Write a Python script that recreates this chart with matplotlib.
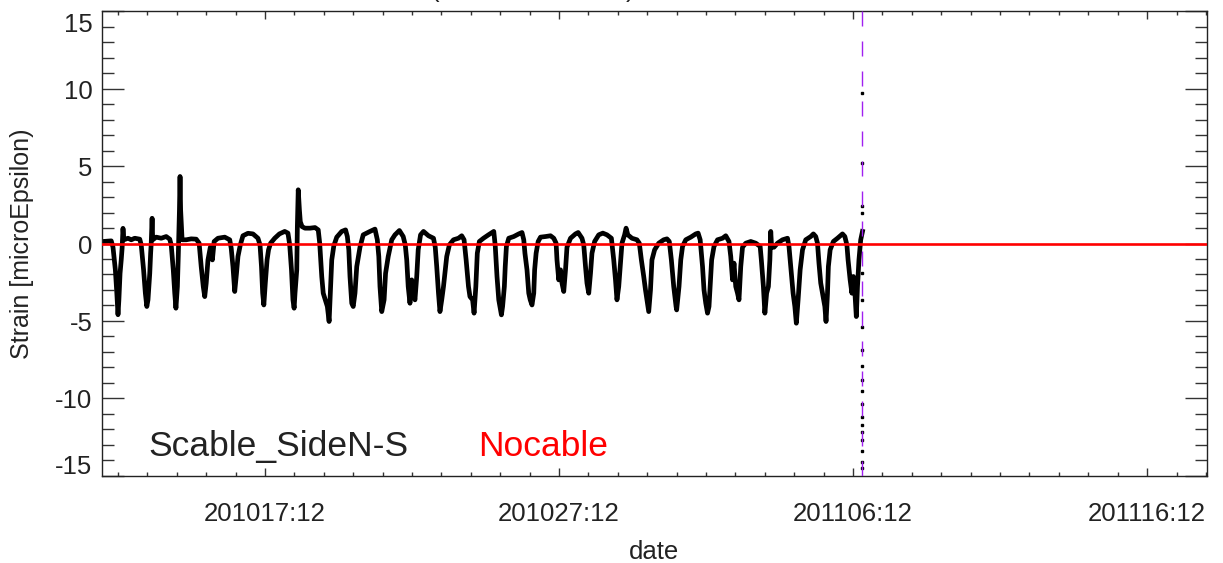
import numpy as np
import matplotlib
matplotlib.use("Agg")
import matplotlib.pyplot as plt
from matplotlib.ticker import MultipleLocator, FixedLocator
import matplotlib.transforms as mtransforms

plt.rcParams['font.family'] = ['Liberation Sans', 'DejaVu Sans']

# time in fractional day numbers counted from 1 Oct 2010 (Nov d -> 31 + d)
time_day = [
    11.99, 12.27, 12.33, 12.41, 12.46, 12.50, 12.53, 12.57, 12.61, 12.64, 12.67, 12.70,
    12.84, 12.95, 13.07, 13.24, 13.29, 13.37, 13.43, 13.48, 13.52, 13.58, 13.61, 13.63,
    13.66, 13.68, 13.80, 13.97, 14.14, 14.26, 14.31, 14.38, 14.43, 14.47, 14.52, 14.55,
    14.59, 14.61, 14.63, 14.68, 14.82, 14.99, 15.16, 15.26, 15.33, 15.40, 15.45, 15.50,
    15.56, 15.64, 15.71, 15.77, 15.90, 16.13, 16.30, 16.35, 16.41, 16.47, 16.53, 16.58,
    16.66, 16.75, 16.92, 17.09, 17.26, 17.33, 17.38, 17.42, 17.46, 17.51, 17.57, 17.62,
    17.69, 17.83, 17.99, 18.17, 18.28, 18.34, 18.40, 18.45, 18.49,
    18.52, 18.58, 18.60, 18.63, 18.67, 18.70, 18.76, 18.86, 19.03, 19.20, 19.31, 19.36,
    19.43, 19.48, 19.55, 19.62, 19.68, 19.72, 19.77, 19.84, 19.94, 20.11, 20.24, 20.30,
    20.35, 20.39, 20.45, 20.50, 20.56, 20.62, 20.73, 20.84, 21.07, 21.24, 21.32, 21.37,
    21.41, 21.47, 21.55, 21.60, 21.69, 21.81, 21.92, 22.07, 22.20, 22.27, 22.32, 22.37,
    22.43, 22.49, 22.54, 22.60, 22.66, 22.71, 22.79, 22.89, 23.06, 23.23, 23.29, 23.34,
    23.40, 23.45, 23.51, 23.57, 23.62, 23.68, 23.77, 23.91, 24.08, 24.19, 24.27, 24.34,
    24.42, 24.47, 24.56, 24.61, 24.67, 24.72, 24.79, 24.93, 25.10,
    25.28, 25.33, 25.39, 25.45, 25.50, 25.54, 25.58, 25.64, 25.67, 25.71, 25.79, 25.96,
    26.13, 26.24, 26.30, 26.34, 26.41, 26.47, 26.52, 26.58, 26.64, 26.67, 26.72, 26.79,
    26.87, 27.04, 27.21, 27.32, 27.40, 27.43, 27.49, 27.55, 27.60, 27.66, 27.72, 27.77,
    27.89, 28.06, 28.15, 28.28, 28.34, 28.40, 28.45, 28.51, 28.57, 28.62, 28.71, 28.85,
    28.99, 29.13, 29.28, 29.36, 29.42, 29.47, 29.53, 29.59, 29.64, 29.73, 29.78, 29.84,
    29.98, 30.15, 30.23, 30.30, 30.38, 30.44, 30.49, 30.55, 30.61, 30.66, 30.75, 30.89,
    31.06, 31.17, 31.25, 31.32, 31.40, 31.48,
    31.50, 31.58, 31.64, 31.70, 31.81, 31.98, 32.15, 32.23, 32.30, 32.38, 32.43, 32.49,
    32.55, 32.60, 32.64, 32.69, 32.77, 32.89, 33.06, 33.17, 33.28, 33.34, 33.40, 33.45,
    33.51, 33.57, 33.62, 33.68, 33.74, 33.85, 34.02, 34.19, 34.34, 34.38, 34.45, 34.50,
    34.56, 34.62, 34.67, 34.70, 34.73, 34.81, 34.93, 35.10, 35.27, 35.32, 35.38, 35.46,
    35.52, 35.57, 35.63, 35.70, 35.78, 35.89, 36.06, 36.15, 36.23, 36.29, 36.34, 36.40,
    36.46, 36.54, 36.58, 36.63, 36.66, 36.72, 36.83, 36.97, 37.14, 37.22, 37.29, 37.33,
    37.40, 37.46, 37.51, 37.57, 37.61, 37.65, 37.70, 37.76, 37.82,
]
strain = [
    0.13, 0.17, -0.24, -1.70, -3.20, -4.60, -3.65, -1.93, -1.06, -0.30, 0.98, 0.24,
    0.34, 0.24, 0.34, 0.28, -0.09, -1.70, -3.20, -4.07, -3.64, -1.93, -0.63, 0.02,
    1.63, 0.24, 0.41, 0.34, 0.45, 0.28, -0.09, -1.70, -3.20, -4.18, -2.78, -0.84,
    2.17, 4.33, 2.17, 0.24, 0.24, 0.30, 0.28, 0.02, -1.49, -2.78, -3.43, -2.56,
    -1.06, -0.24, -1.06, 0.13, 0.34, 0.41, 0.24, -0.30, -1.49, -3.10, -1.93, -0.84,
    -0.09, 0.50, 0.66, 0.62, 0.34, -0.09, -1.49, -3.20, -3.97, -2.56, -1.06, -0.41,
    0.02, 0.34, 0.62, 0.78, 0.67, -0.09, -1.70, -3.64, -4.18,
    -3.21, -1.70, 1.09, 3.47, 2.17, 1.41, 1.09, 0.99, 0.99, 1.03, 0.88, 0.02,
    -2.14, -3.21, -3.64, -4.07, -5.04, -3.21, -1.06, -0.15, 0.41, 0.78, 0.88, 0.45,
    -0.41, -2.13, -3.86, -4.07, -3.21, -1.49, -0.24, 0.56, 0.78, 0.93, 0.24, -0.84,
    -2.78, -4.40, -3.64, -1.93, -0.84, 0.24, 0.56, 0.84, 0.45, -0.09, -1.06, -2.78,
    -3.86, -2.35, -3.21, -3.64, -2.13, -0.41, 0.56, 0.78, 0.50, 0.34, -0.24, -1.49,
    -3.21, -4.40, -3.64, -2.78, -1.92, -0.84, -0.09, 0.24, 0.34, 0.50, 0.24, -1.06,
    -2.78, -3.43, -3.64, -4.50, -2.78, -0.63, 0.13, 0.34, 0.56,
    0.78, -0.15, -2.13, -3.64, -4.18, -4.61, -4.07, -2.78, -1.49, -0.19, 0.34, 0.45,
    0.62, 0.71, 0.24, -0.63, -1.70, -3.21, -3.64, -3.97, -3.21, -1.70, -0.63, 0.13,
    0.41, 0.45, 0.50, 0.34, 0.02, -1.06, -2.35, -1.70, -2.56, -3.10, -1.70, -0.24,
    0.34, 0.62, 0.71, 0.34, -0.09, -1.49, -2.56, -3.21, -1.92, -0.63, 0.13, 0.56,
    0.67, 0.56, 0.34, -1.06, -2.35, -3.64, -2.78, -1.27, 0.02, 0.56, 0.99, 0.56,
    0.34, 0.24, 0.02, -1.06, -2.13, -3.00, -3.64, -4.40, -3.00, -1.06, -0.41, 0.02,
    0.24, 0.30, 0.13, -1.06, -2.78, -4.07,
    -4.29, -2.78, -1.06, -0.19, 0.24, 0.41, 0.62, 0.67, 0.24, -1.49, -3.00, -3.86,
    -4.50, -4.07, -2.78, -1.06, -0.19, 0.24, 0.34, 0.50, 0.13, -0.84, -2.35, -1.27,
    -2.78, -3.21, -3.64, -1.49, -0.24, 0.02, 0.13, 0.02, -0.19, -1.06, -2.78, -4.50,
    -3.21, -2.78, -1.06, 0.78, -0.24, -0.24, 0.02, 0.24, 0.34, -0.19, -1.49, -3.21,
    -4.07, -5.15, -3.64, -1.70, -0.41, 0.24, 0.45, 0.62, 0.45, 0.02, -1.27, -2.56,
    -3.21, -4.07, -5.04, -3.21, -1.49, -0.41, 0.13, 0.34, 0.62, 0.45, -0.09, -1.06,
    -2.35, -3.21, -2.13, -3.43, -4.72, -2.78, -1.06, 0.24, 0.78,
]

# scattered readings at the end of the record
spike_time = 37.80
spike_strain = [9.7, 5.2, 2.4, 2.0, -1.9, -3.65, -5.4, -6.9, -7.9, -8.8, -9.5,
                -10.4, -11.2, -11.7, -12.2, -12.7, -13.4, -14.1, -14.5]

marker_day = 37.80
nocable_level = 0.0

xtick_pos = [17.5, 27.5, 37.5, 47.5]
xtick_labels = ['201017:12', '201027:12', '201106:12', '201116:12']
ytick_pos = [-15, -10, -5, 0, 5, 10, 15]
ytick_labels = ['-15', '-10', '-5', '0', '5', '10', '15']

TXT = '#222222'

fig = plt.figure(figsize=(12.23, 5.63), dpi=100)
ax = fig.add_axes([102 / 1223, 1 - 475.7 / 563, 1104.5 / 1223, 464.4 / 563])

ax.plot(time_day, strain, color='black', lw=3.4, solid_joinstyle='round', zorder=2)
ax.plot([spike_time] * len(spike_strain), spike_strain, ls='none', marker='s',
        ms=1.6, color='black', zorder=2)
ax.axvline(marker_day, color='#A020F0', lw=1.0, dashes=(10.8, 10.8), zorder=3)
ax.axhline(nocable_level, color='#FF0000', lw=1.9, zorder=4)

ax.set_xlim(11.956, 49.52)
ax.set_ylim(-15, 15)

ax.set_xticks(xtick_pos)
ax.set_xticklabels(xtick_labels)
ax.xaxis.set_minor_locator(FixedLocator(np.arange(12.5, 49.6, 1.0)))
ax.set_yticks(ytick_pos)
ax.set_yticklabels([])
ax.yaxis.set_minor_locator(MultipleLocator(1))

ax.tick_params(axis='x', which='major', direction='in', length=6, width=1.0,
               top=True, bottom=True, pad=19, labelsize=18.5, labelcolor=TXT, color='#333333')
ax.tick_params(axis='x', which='minor', direction='in', length=3, width=1.0,
               top=True, bottom=True, color='#333333')
ax.tick_params(axis='y', which='major', direction='in', length=15.8, width=1.0,
               left=True, right=True, color='#333333')
ax.tick_params(axis='y', which='minor', direction='in', length=8.3, width=1.0,
               left=True, right=True, color='#333333')
for s in ax.spines.values():
    s.set_color('#222222')
    s.set_linewidth(1.0)

# y tick labels (IDL-style placement)
ytrans = ax.get_yaxis_transform()
for v, lab in zip(ytick_pos, ytick_labels):
    dy = -3.0
    if v == ytick_pos[-1]:
        dy = -13.7
    elif v == ytick_pos[0]:
        dy = 8.7
    off = mtransforms.ScaledTranslation(-9.5 / 100, dy / 100, fig.dpi_scale_trans)
    ax.text(0, v, lab, transform=ytrans + off, ha='right', va='center',
            fontsize=18.5, color=TXT, clip_on=False)

ax.set_xlabel('date', fontsize=18.5, color=TXT, labelpad=10)
ax.set_ylabel('Strain [microEpsilon)', fontsize=18, color=TXT, va='center')
ax.yaxis.set_label_coords(-0.0724, 0.5)

ax.text(0.0416, 0.0424, 'Scable_SideN-S', transform=ax.transAxes, fontsize=25.5,
        color=TXT, ha='left', va='baseline')
ax.text(0.3404, 0.0424, 'Nocable', transform=ax.transAxes, fontsize=25.5,
        color='#FF0000', ha='left', va='baseline')

# clipped title remnants at the very top
fig.text(435 / 1223, 1 + 3.5 / 563, '(', fontsize=18.5, color=TXT, ha='center', va='baseline')
fig.text(630 / 1223, 1 + 3.5 / 563, ')', fontsize=18.5, color=TXT, ha='center', va='baseline')

fig.savefig('out.png', dpi=100)
